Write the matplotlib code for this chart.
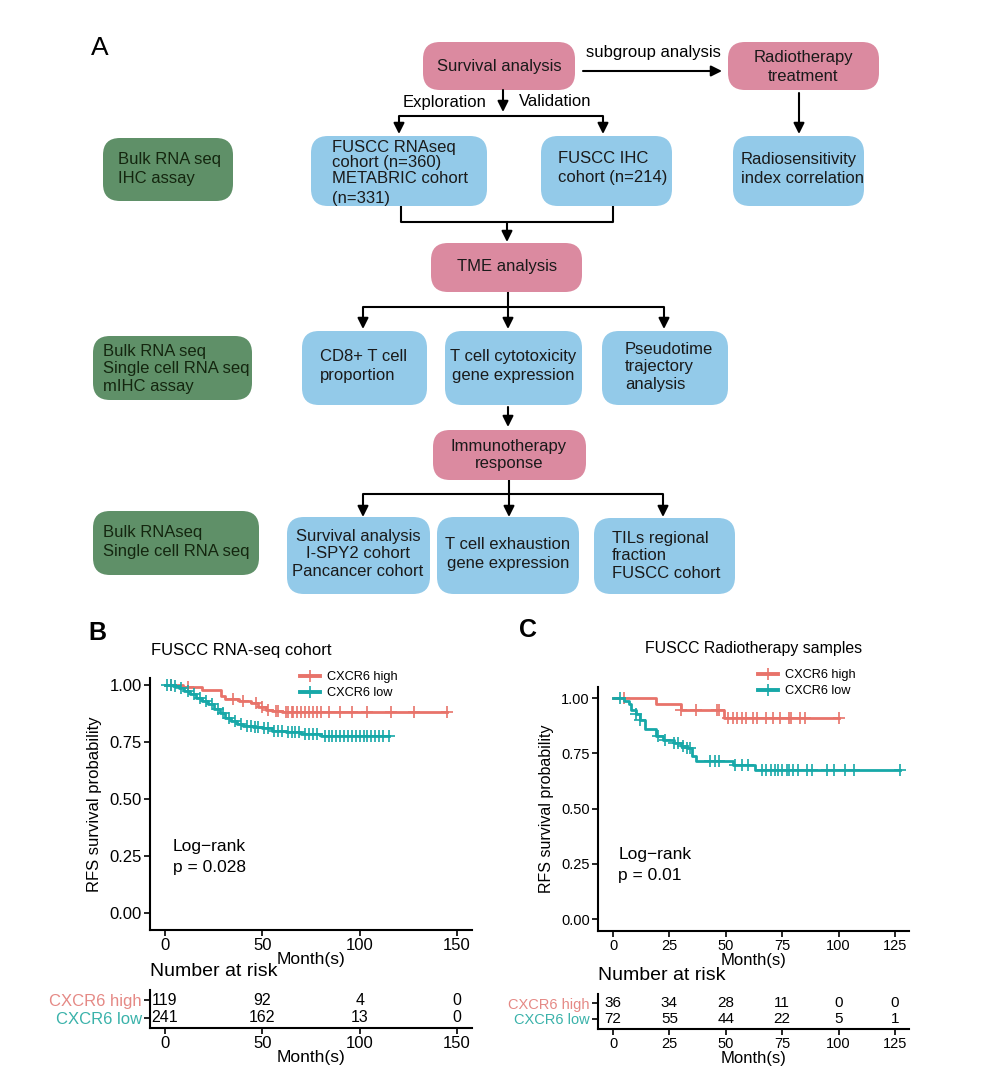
import numpy as np
import matplotlib
matplotlib.use("Agg")
import matplotlib.pyplot as plt
from matplotlib.patches import FancyBboxPatch
from matplotlib.lines import Line2D

plt.rcParams['font.family'] = ['Liberation Sans', 'DejaVu Sans']

# ---- data : panel B (FUSCC RNA-seq cohort) ----
b_high_t = [0, 9, 19, 29, 31, 38, 44, 48, 52, 55, 60]
b_high_s = [1.0, 0.99, 0.98, 0.95, 0.94, 0.93, 0.92, 0.905, 0.89, 0.885, 0.88]
b_high_end = 145
b_high_cens = [3, 12, 35, 40, 47, 50, 53, 57, 58, 62, 63, 65, 66, 68, 70, 72,
               74, 76, 78, 80, 84, 90, 96, 104, 116, 128, 145]
b_low_t = [0, 4, 7, 10, 13, 16, 19, 22, 25, 28, 31, 34, 37, 40, 45, 50, 55, 62, 70, 80]
b_low_s = [1.0, 0.995, 0.985, 0.975, 0.96, 0.945, 0.93, 0.915, 0.895, 0.875,
           0.855, 0.84, 0.83, 0.82, 0.815, 0.81, 0.80, 0.795, 0.785, 0.776]
b_low_end = 115
b_low_cens = [1, 3, 5, 8, 12, 15, 18, 21, 24, 27, 30, 33, 36, 39, 42, 44, 46, 48,
              51, 53, 56, 58, 60, 63, 65, 67, 69, 72, 74, 76, 78, 82, 84, 86, 88,
              90, 92, 94, 96, 98, 100, 102, 104, 106, 108, 110, 112, 115]
b_risk_t = [0, 50, 100, 150]
b_risk_high = [119, 92, 4, 0]
b_risk_low = [241, 162, 13, 0]

# ---- data : panel C (FUSCC Radiotherapy samples) ----
c_high_t = [0, 19, 30, 49]
c_high_s = [1.0, 0.971, 0.945, 0.912]
c_high_end = 100
c_high_cens = [5, 30, 37, 46, 47, 51, 53, 55, 57, 59, 62, 64, 68, 71, 74, 78, 79, 83, 85, 100]
c_low_t = [0, 5, 7, 8, 10, 12, 14, 19, 22, 27, 30, 33, 35, 37, 53, 63]
c_low_s = [1.0, 0.986, 0.972, 0.944, 0.93, 0.90, 0.86, 0.83, 0.81, 0.795,
           0.784, 0.772, 0.74, 0.713, 0.697, 0.674]
c_low_end = 127
c_low_cens = [3, 10, 12, 20, 23, 27, 29, 31, 33, 34, 43, 45, 47, 54, 57, 60, 66,
              68, 70, 72, 73, 75, 77, 78, 80, 82, 86, 88, 95, 98, 103, 107, 127]
c_risk_t = [0, 25, 50, 75, 100, 125]
c_risk_high = [36, 34, 28, 11, 0, 0]
c_risk_low = [72, 55, 44, 22, 5, 1]

groups = ["CXCR6 high", "CXCR6 low"]
RED = "#E8736A"
TEAL = "#17A8A8"
RED_LAB = "#E58985"
TEAL_LAB = "#3AB2AA"

PINK = "#DB8AA0"
BLUE = "#93CAE9"
GREEN = "#5F9068"

W, H = 1002, 1086
fig = plt.figure(figsize=(W / 100, H / 100), dpi=100)
ax0 = fig.add_axes([0, 0, 1, 1])
ax0.set_xlim(0, W)
ax0.set_ylim(H, 0)
ax0.axis("off")


def box(x0, y0, x1, y1, color, txt, tx, ty, ha="center", ls=1.3, tcolor="#1a1a1a"):
    p = FancyBboxPatch((x0, y0), x1 - x0, y1 - y0,
                       boxstyle="round,pad=0,rounding_size=17",
                       fc=color, ec="none")
    ax0.add_patch(p)
    if txt:
        ax0.text(tx, ty, txt, ha=ha, va="center", fontsize=12, linespacing=ls, color=tcolor)


def arrow(x0, y0, x1, y1):
    ax0.annotate("", xy=(x1, y1), xytext=(x0, y0),
                 arrowprops=dict(arrowstyle="-|>", color="black", lw=1.5,
                                 mutation_scale=16, shrinkA=0, shrinkB=0))


def line(xs, ys):
    ax0.plot(xs, ys, color="black", lw=1.5, solid_capstyle="butt")


# ---- panel A flowchart ----
ax0.text(100, 48, "A", fontsize=19, ha="center", va="center")

box(423, 42, 575, 90, PINK, "Survival analysis", 499, 66)
box(728, 42, 879, 90, PINK, "Radiotherapy\ntreatment", 803, 67)
arrow(583, 71, 722, 71)
ax0.text(653, 53, "subgroup analysis", fontsize=12, ha="center", va="center")
arrow(799, 93, 799, 134)
box(733, 136, 864, 206, BLUE, "Radiosensitivity\nindex correlation", 741, 169, ha="left")

box(103, 138, 233, 201, GREEN, "Bulk RNA seq\nIHC assay", 118, 169, ha="left", tcolor="#14260f")
box(311, 136, 487, 206, BLUE, "", 0, 0)
ax0.text(332, 163, "FUSCC RNAseq\ncohort (n=360)\nMETABRIC cohort", ha="left", va="center",
         fontsize=12, linespacing=1.08, color="#1a1a1a")
ax0.text(332, 198, "(n=331)", ha="left", va="center", fontsize=12, color="#1a1a1a")
box(541, 136, 672, 206, BLUE, "FUSCC IHC\ncohort (n=214)", 558, 168, ha="left")

arrow(503, 90, 503, 112)
line([399, 603], [116, 116])
arrow(399, 116, 399, 134)
arrow(603, 116, 603, 134)
ax0.text(445, 102, "Exploration", fontsize=12, ha="center", va="center")
ax0.text(555, 102, "Validation", fontsize=12, ha="center", va="center")

line([401, 401, 613, 613], [206, 222, 222, 206])
arrow(507, 222, 507, 242)

box(431, 243, 582, 292, PINK, "TME analysis", 507, 267)
line([508, 508], [292, 307])
line([363, 664], [307, 307])
for xx in [363, 508, 664]:
    arrow(xx, 307, xx, 329)

box(93, 336, 252, 400, GREEN, "Bulk RNA seq\nSingle cell RNA seq\nmIHC assay", 103, 369,
    ha="left", ls=1.2, tcolor="#14260f")
box(302, 331, 427, 405, BLUE, "CD8+ T cell\nproportion", 320, 366, ha="left")
box(445, 331, 582, 405, BLUE, "T cell cytotoxicity\ngene expression", 513, 366)
box(602, 331, 728, 405, BLUE, "Pseudotime\ntrajectory\nanalysis", 625, 367, ha="left", ls=1.2)
arrow(508, 407, 508, 427)

box(433, 430, 586, 480, PINK, "Immunotherapy\nresponse", 509, 455, ls=1.1)
line([509, 509], [480, 494])
line([363, 663], [494, 494])
for xx in [363, 509, 663]:
    arrow(xx, 494, xx, 517)

box(93, 511, 259, 575, GREEN, "Bulk RNAseq\nSingle cell RNA seq", 103, 542, ha="left", tcolor="#14260f")
box(287, 517, 430, 594, BLUE, "Survival analysis\nI-SPY2 cohort\nPancancer cohort", 358, 554, ls=1.2)
box(437, 517, 579, 594, BLUE, "T cell exhaustion\ngene expression", 508, 554)
box(594, 518, 735, 594, BLUE, "TILs regional\nfraction\nFUSCC cohort", 612, 556, ha="left", ls=1.2)


# ---- KM helpers ----
def px_axes(l, t, r, b):
    return fig.add_axes([l / W, 1 - b / H, (r - l) / W, (b - t) / H])


def surv_at(times, surv, q):
    idx = np.searchsorted(np.array(times), np.array(q), side="right") - 1
    return np.array(surv)[idx]


def km(ax, t, s, end, cens, color):
    ax.step(list(t) + [end], list(s) + [s[-1]], where="post", color=color, lw=2.0)
    ax.plot(cens, surv_at(t, s, cens), ls="none", marker="+", ms=8, mew=1.2, color=color)


def style(ax, fs):
    for sp in ["top", "right"]:
        ax.spines[sp].set_visible(False)
    for sp in ["left", "bottom"]:
        ax.spines[sp].set_linewidth(1.5)
    ax.tick_params(length=4, width=1.2, labelsize=fs, colors="black", pad=2)


# ---- panel B ----
axb = px_axes(150, 678, 472, 930)
km(axb, b_high_t, b_high_s, b_high_end, b_high_cens, RED)
km(axb, b_low_t, b_low_s, b_low_end, b_low_cens, TEAL)
axb.set_xlim(-7.7, 157.7)
axb.set_ylim(-0.0746, 1.0307)
axb.set_xticks([0, 50, 100, 150])
axb.set_yticks([0, 0.25, 0.5, 0.75, 1.0])
axb.set_yticklabels(["0.00", "0.25", "0.50", "0.75", "1.00"])
style(axb, 12)
axb.set_ylabel("RFS survival probability", fontsize=12, labelpad=5)
axb.set_xlabel("Month(s)", fontsize=12.5, labelpad=-1)
axb.text(0.07, 0.29, "Log\u2212rank\np = 0.028", transform=axb.transAxes, fontsize=12.5,
         va="center", ha="left", linespacing=1.45)
hb = [Line2D([], [], color=RED, lw=2.8, marker="+", ms=8, mew=1.2),
      Line2D([], [], color=TEAL, lw=2.8, marker="+", ms=8, mew=1.2)]
axb.legend(hb, groups, loc="upper left", bbox_to_anchor=(294 / W, 1 - 665 / H),
           bbox_transform=fig.transFigure, frameon=False, fontsize=9.2,
           handlelength=1.5, labelspacing=0.3, borderpad=0, handletextpad=0.6)

ax0.text(97, 633, "B", fontsize=18, fontweight="bold", ha="center", va="center")
ax0.text(151, 650, "FUSCC RNA-seq cohort", fontsize=12, ha="left", va="center")
ax0.text(150, 972, "Number at risk", fontsize=14, ha="left", va="center")

axbr = px_axes(150, 990, 472, 1028)
for tt, n in zip(b_risk_t, b_risk_high):
    axbr.text(tt, 1, str(n), ha="center", va="center", fontsize=11.5)
for tt, n in zip(b_risk_t, b_risk_low):
    axbr.text(tt, 0, str(n), ha="center", va="center", fontsize=11.5)
axbr.set_xlim(-7.7, 157.7)
axbr.set_ylim(-0.556, 1.556)
axbr.set_xticks(b_risk_t)
axbr.set_yticks([1, 0])
axbr.set_yticklabels(groups)
style(axbr, 12)
axbr.tick_params(axis="y", labelsize=12, pad=2)
for lab, c in zip(axbr.get_yticklabels(), [RED_LAB, TEAL_LAB]):
    lab.set_color(c)
axbr.set_xlabel("Month(s)", fontsize=12.5, labelpad=-1)

# ---- panel C ----
axc = px_axes(598, 687, 909, 931)
km(axc, c_high_t, c_high_s, c_high_end, c_high_cens, RED)
km(axc, c_low_t, c_low_s, c_low_end, c_low_cens, TEAL)
axc.set_xlim(-6.65, 131.2)
axc.set_ylim(-0.054, 1.05)
axc.set_xticks([0, 25, 50, 75, 100, 125])
axc.set_yticks([0, 0.25, 0.5, 0.75, 1.0])
axc.set_yticklabels(["0.00", "0.25", "0.50", "0.75", "1.00"])
style(axc, 10.5)
axc.set_ylabel("RFS survival probability", fontsize=11.5, labelpad=5)
axc.set_xlabel("Month(s)", fontsize=12, labelpad=0)
axc.text(0.065, 0.27, "Log\u2212rank\np = 0.01", transform=axc.transAxes, fontsize=12.5,
         va="center", ha="left", linespacing=1.45)
axc.legend(hb, groups, loc="upper left", bbox_to_anchor=(752 / W, 1 - 663 / H),
           bbox_transform=fig.transFigure, frameon=False, fontsize=9.2,
           handlelength=1.5, labelspacing=0.3, borderpad=0, handletextpad=0.6)

ax0.text(528, 630, "C", fontsize=18, fontweight="bold", ha="center", va="center")
ax0.text(754, 648, "FUSCC Radiotherapy samples", fontsize=11.4, ha="center", va="center")
ax0.text(598, 975, "Number at risk", fontsize=14, ha="left", va="center")

axcr = px_axes(598, 994, 909, 1029)
for tt, n in zip(c_risk_t, c_risk_high):
    axcr.text(tt, 1, str(n), ha="center", va="center", fontsize=11)
for tt, n in zip(c_risk_t, c_risk_low):
    axcr.text(tt, 0, str(n), ha="center", va="center", fontsize=11)
axcr.set_xlim(-6.65, 131.2)
axcr.set_ylim(-0.625, 1.5625)
axcr.set_xticks(c_risk_t)
axcr.set_yticks([1, 0])
axcr.set_yticklabels(groups)
style(axcr, 10.5)
axcr.tick_params(axis="y", labelsize=10.5, pad=2)
for lab, c in zip(axcr.get_yticklabels(), [RED_LAB, TEAL_LAB]):
    lab.set_color(c)
axcr.set_xlabel("Month(s)", fontsize=12, labelpad=0)

fig.savefig("out.png", dpi=100)
